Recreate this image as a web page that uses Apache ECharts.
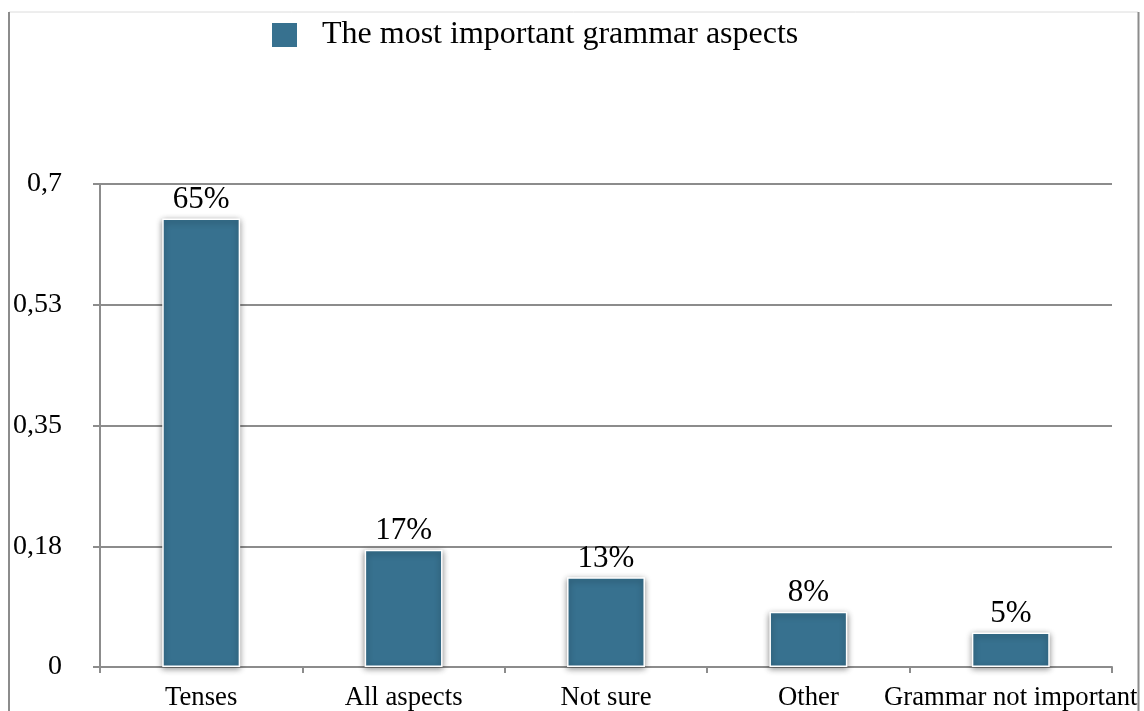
<!DOCTYPE html>
<html>
<head>
<meta charset="utf-8">
<style>
  html, body { margin: 0; padding: 0; background: #fff; }
  #chart { width: 1144px; height: 711px; }
</style>
<script src="https://cdn.jsdelivr.net/npm/echarts@6/dist/echarts.min.js"></script>
</head>
<body>
<div id="chart"></div>
<script>
// Survey answers: which grammar aspects matter most
const categories = ['Tenses', 'All aspects', 'Not sure', 'Other', 'Grammar not important'];
const shares = [0.65, 0.17, 0.13, 0.08, 0.05];
const shareLabels = ['65%', '17%', '13%', '8%', '5%'];
const yTickLabels = ['0', '0,18', '0,35', '0,53', '0,7'];
const seriesName = 'The most important grammar aspects';

const FONT = '"Liberation Serif", "Times New Roman", serif';
const AXIS_GRAY = '#8c8c8c';
const BAR_COLOR = '#37718f';
const Y_STEP = 0.175;

const chart = echarts.init(document.getElementById('chart'));

chart.setOption({
  animation: false,
  backgroundColor: '#fff',
  textStyle: { fontFamily: FONT, color: '#000' },
  graphic: [
    { type: 'line', shape: { x1: 9, y1: 12, x2: 1138, y2: 12 }, style: { stroke: '#dcdcdc', lineWidth: 1 } },
    { type: 'line', shape: { x1: 9, y1: 12, x2: 9, y2: 711 }, style: { stroke: AXIS_GRAY, lineWidth: 2 } },
    { type: 'line', shape: { x1: 1138.5, y1: 12, x2: 1138.5, y2: 711 }, style: { stroke: AXIS_GRAY, lineWidth: 2 } }
  ],
  legend: {
    left: 270,
    top: 19,
    padding: 0,
    itemWidth: 27,
    itemHeight: 26,
    icon: 'rect',
    data: [seriesName],
    textStyle: { fontFamily: FONT, fontSize: 32, color: '#000', padding: [0, 0, 0, 19] }
  },
  grid: { left: 100, right: 32, top: 184, bottom: 42, containLabel: false },
  xAxis: {
    type: 'category',
    data: categories,
    axisLine: { lineStyle: { color: AXIS_GRAY, width: 2 } },
    axisTick: { show: true, alignWithLabel: false, length: 6, lineStyle: { color: AXIS_GRAY, width: 2 } },
    axisLabel: { fontFamily: FONT, fontSize: 26.7, color: '#000', margin: 17, interval: 0 }
  },
  yAxis: {
    type: 'value',
    min: 0,
    max: 0.7,
    interval: Y_STEP,
    axisLine: { show: true, lineStyle: { color: AXIS_GRAY, width: 2 } },
    axisTick: { show: true, length: 7, lineStyle: { color: AXIS_GRAY, width: 2 } },
    splitLine: { show: true, lineStyle: { color: AXIS_GRAY, width: 2 } },
    axisLabel: {
      fontFamily: FONT,
      fontSize: 28,
      color: '#000',
      margin: 38,
      formatter: v => yTickLabels[Math.round(v / Y_STEP)]
    }
  },
  series: [{
    name: seriesName,
    type: 'bar',
    data: shares,
    barWidth: '38.5%',
    itemStyle: {
      color: BAR_COLOR,
      borderColor: '#fff',
      borderWidth: 1.5,
      shadowBlur: 6,
      shadowColor: 'rgba(0,0,0,0.45)',
      shadowOffsetY: 2
    },
    label: {
      show: true,
      position: 'top',
      distance: 3,
      fontFamily: FONT,
      fontSize: 31,
      color: '#000',
      formatter: p => shareLabels[p.dataIndex]
    }
  }]
});
</script>
</body>
</html>
